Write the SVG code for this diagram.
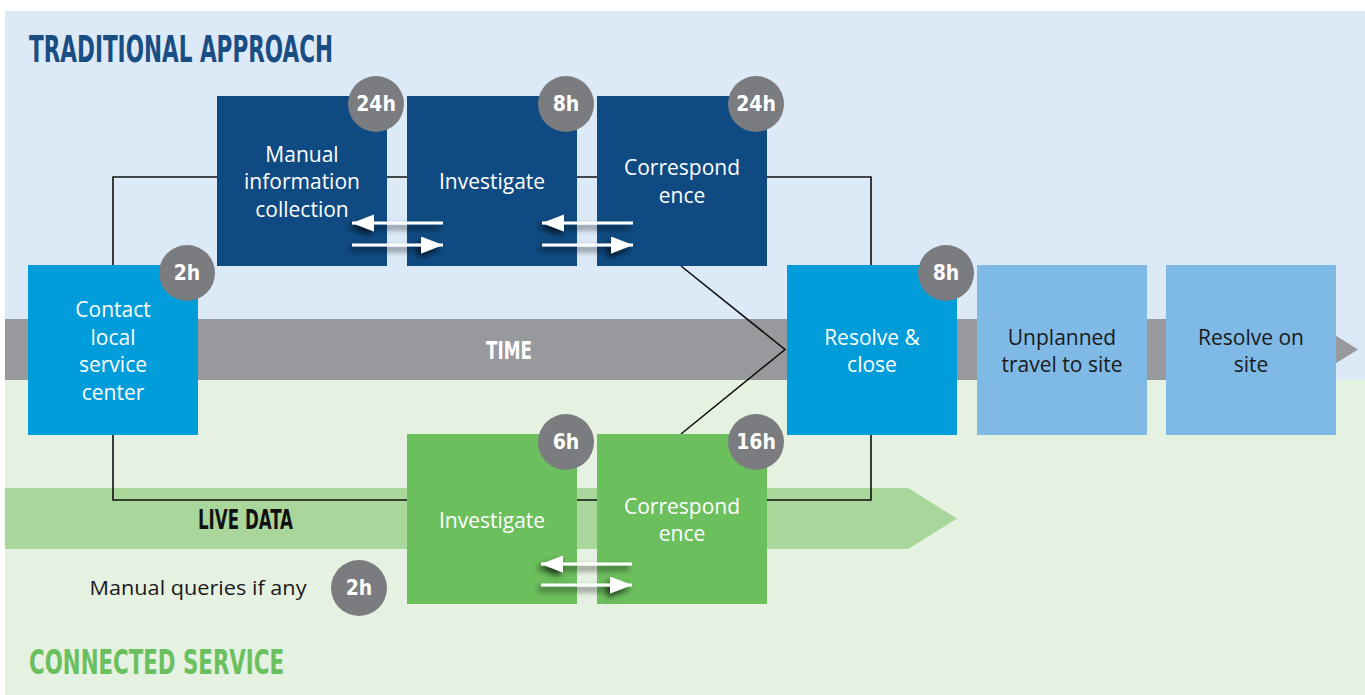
<svg xmlns="http://www.w3.org/2000/svg" width="1365" height="695" viewBox="0 0 1365 695">
<defs>
<style>
.box text{font-family:"Open Sans","DejaVu Sans",sans-serif;font-size:21px;fill:#fff;text-anchor:middle}
.box text.dk{fill:#1a1a1a}
.badge circle{fill:#7b7c80}
.badge text{font-family:"DejaVu Sans Condensed","DejaVu Sans",sans-serif;font-stretch:condensed;font-weight:bold;font-size:21px;fill:#fff;text-anchor:middle}
.title{font-family:"DejaVu Sans Condensed","DejaVu Sans",sans-serif;font-stretch:condensed;font-weight:bold}
.conn{fill:none;stroke:#111;stroke-width:1.6}
.arr{stroke:#fff;stroke-width:3;marker-end:url(#head)}
.navy{fill:#0f4b82}
.cyan{fill:#009dda}
.lblue{fill:#7fb9e5}
.green{fill:#6cbf5d}
</style>
<marker id="head" markerUnits="userSpaceOnUse" markerWidth="23" markerHeight="18" refX="22" refY="8.5" orient="auto">
<path d="M0,0 L22,8.5 L0,17 z" fill="#fff"/>
</marker>
<filter id="sh" x="-30%" y="-100%" width="160%" height="300%">
<feDropShadow dx="-3" dy="4" stdDeviation="3" flood-color="#000" flood-opacity="0.75"/>
</filter>
</defs>

<g id="background">
<rect x="5" y="11" width="1360" height="369" fill="#dceaf7"/>
<rect x="5" y="380" width="1360" height="315" fill="#e5f1e1"/>
<path d="M5,319 H1309 L1358,349.5 L1309,380 H5 z" fill="#98999c"/>
<path d="M5,488 H908 L957,518.5 L908,549 H5 z" fill="#a9d69b"/>
<text class="title" x="29" y="62" font-size="37" fill="#1a4d84" textLength="304" lengthAdjust="spacingAndGlyphs">TRADITIONAL APPROACH</text>
<text class="title" x="29" y="674" font-size="33" fill="#6abf5e" textLength="255" lengthAdjust="spacingAndGlyphs">CONNECTED SERVICE</text>
<text class="title" x="509" y="359" font-size="24" fill="#fff" text-anchor="middle" textLength="46" lengthAdjust="spacingAndGlyphs">TIME</text>
<text class="title" x="245.5" y="529" font-size="27" fill="#111" text-anchor="middle" textLength="95" lengthAdjust="spacingAndGlyphs">LIVE DATA</text>
<text x="198" y="595" font-family="Open Sans,DejaVu Sans,sans-serif" font-size="20" fill="#1a1a1a" text-anchor="middle" textLength="217" lengthAdjust="spacingAndGlyphs">Manual queries if any</text>
</g>

<g id="connectors">
<path class="conn" d="M113,265 V177 H217 M387,177 H407 M577,177 H597 M767,177 H871 V265"/>
<path class="conn" d="M113,435 V500 H407 M577,500 H597 M767,500 H871 V435"/>
<path class="conn" d="M681,266 L785,349.5 L681,434"/>
</g>

<g id="contact" class="box">
<rect class="cyan" x="28" y="265" width="170" height="170"/>
<text x="113" y="317">Contact</text>
<text x="113" y="345">local</text>
<text x="113" y="372">service</text>
<text x="113" y="400">center</text>
</g>
<g id="manual-info" class="box">
<rect class="navy" x="217" y="96" width="170" height="170"/>
<text x="302" y="162">Manual</text>
<text x="302" y="189">information</text>
<text x="302" y="217">collection</text>
</g>
<g id="investigate-top" class="box">
<rect class="navy" x="407" y="96" width="170" height="170"/>
<text x="492" y="189">Investigate</text>
</g>
<g id="correspond-top" class="box">
<rect class="navy" x="597" y="96" width="170" height="170"/>
<text x="682" y="175">Correspond</text>
<text x="682" y="203">ence</text>
</g>
<g id="resolve-close" class="box">
<rect class="cyan" x="787" y="265" width="170" height="170"/>
<text x="872" y="345">Resolve &amp;</text>
<text x="872" y="372">close</text>
</g>
<g id="travel" class="box">
<rect class="lblue" x="977" y="265" width="170" height="170"/>
<text class="dk" x="1062" y="345">Unplanned</text>
<text class="dk" x="1062" y="372">travel to site</text>
</g>
<g id="resolve-site" class="box">
<rect class="lblue" x="1166" y="265" width="170" height="170"/>
<text class="dk" x="1251" y="345">Resolve on</text>
<text class="dk" x="1251" y="372">site</text>
</g>
<g id="investigate-green" class="box">
<rect class="green" x="407" y="434" width="170" height="170"/>
<text x="492" y="528">Investigate</text>
</g>
<g id="correspond-green" class="box">
<rect class="green" x="597" y="434" width="170" height="170"/>
<text x="682" y="514">Correspond</text>
<text x="682" y="541">ence</text>
</g>

<g id="badges" class="badge">
<g id="b1"><circle cx="376" cy="104" r="28"/><text x="376" y="111">24h</text></g>
<g id="b2"><circle cx="566" cy="104" r="28"/><text x="566" y="111">8h</text></g>
<g id="b3"><circle cx="756" cy="104" r="28"/><text x="756" y="111">24h</text></g>
<g id="b4"><circle cx="187" cy="273" r="28"/><text x="187" y="280">2h</text></g>
<g id="b5"><circle cx="946" cy="273" r="28"/><text x="946" y="280">8h</text></g>
<g id="b6"><circle cx="566" cy="442" r="28"/><text x="566" y="449">6h</text></g>
<g id="b7"><circle cx="756" cy="442" r="28"/><text x="756" y="449">16h</text></g>
<g id="b8"><circle cx="359" cy="588" r="28"/><text x="359" y="595">2h</text></g>
</g>

<g id="exchange-arrows" filter="url(#sh)">
<line class="arr" x1="443" y1="223" x2="352" y2="223"/>
<line class="arr" x1="352" y1="245" x2="443" y2="245"/>
<line class="arr" x1="633" y1="223" x2="542" y2="223"/>
<line class="arr" x1="542" y1="245" x2="633" y2="245"/>
<line class="arr" x1="632" y1="564" x2="541" y2="564"/>
<line class="arr" x1="541" y1="585" x2="632" y2="585"/>
</g>
</svg>
